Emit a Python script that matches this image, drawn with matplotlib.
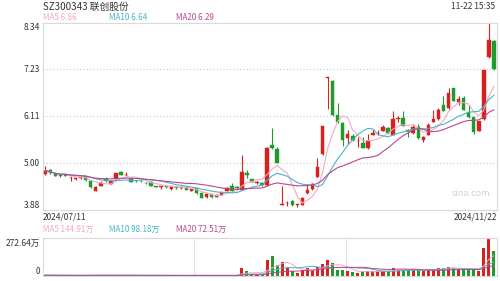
import numpy as np
import pandas as pd
import matplotlib
matplotlib.use("Agg")
import matplotlib.pyplot as plt

plt.rcParams['font.family'] = ['Noto Sans CJK SC', 'DejaVu Sans']

title = "SZ300343 联创股份"
timestamp = "11-22 15:35"
start_label = "2024/07/11"
end_label = "2024/11/22"
price_ticks = [3.88, 5.00, 6.11, 7.23, 8.34]
vol_max_label = "272.64万"
price_ma_labels = ["MA5 6.86", "MA10 6.64", "MA20 6.29"]
vol_ma_labels = ["MA5 144.91万", "MA10 98.18万", "MA20 72.51万"]

opens = [4.74, 4.83, 4.73, 4.71, 4.72, 4.64, 4.63, 4.65, 4.69, 4.56,
         4.34, 4.45, 4.63, 4.51, 4.62, 4.79, 4.71, 4.63, 4.58, 4.57,
         4.53, 4.55, 4.44, 4.42, 4.44, 4.37, 4.43, 4.41, 4.42, 4.34,
         4.40, 4.29, 4.18, 4.25, 4.20, 4.24, 4.34, 4.45, 4.42, 4.36,
         4.77, 4.62, 4.52, 4.53, 4.48, 5.43, 5.33, 4.00, 4.04, 4.09,
         4.00, 4.00, 4.28, 4.37, 4.67, 5.21, 7.03, 6.95, 6.14, 5.96,
         5.59, 5.64, 5.52, 5.47, 5.35, 5.67, 5.71, 5.76, 5.83, 5.67,
         6.05, 6.06, 5.78, 5.71, 5.85, 5.55, 5.67, 5.98, 6.04, 6.38,
         6.30, 6.78, 6.46, 6.54, 6.22, 6.09, 5.77, 6.04, 7.53, 7.91]
closes = [4.82, 4.75, 4.69, 4.68, 4.70, 4.65, 4.64, 4.66, 4.59, 4.42,
          4.43, 4.52, 4.56, 4.58, 4.75, 4.72, 4.72, 4.55, 4.57, 4.56,
          4.52, 4.46, 4.43, 4.44, 4.43, 4.45, 4.40, 4.41, 4.36, 4.37,
          4.28, 4.17, 4.25, 4.18, 4.24, 4.31, 4.41, 4.34, 4.41, 4.79,
          4.71, 4.55, 4.54, 4.47, 5.35, 5.36, 5.01, 4.01, 4.05, 3.99,
          4.00, 4.17, 4.36, 4.49, 4.91, 5.88, 7.04, 6.14, 5.98, 5.55,
          5.68, 5.55, 5.53, 5.36, 5.53, 5.72, 5.72, 5.85, 5.71, 6.04,
          6.06, 5.88, 5.76, 5.85, 5.59, 5.61, 5.90, 6.04, 6.26, 6.24,
          6.67, 6.48, 6.52, 6.26, 6.09, 5.74, 5.99, 7.21, 7.93, 7.23]
highs = [4.93, 4.85, 4.74, 4.72, 4.75, 4.69, 4.67, 4.68, 4.70, 4.57,
         4.45, 4.58, 4.66, 4.60, 4.77, 4.81, 4.78, 4.67, 4.60, 4.59,
         4.55, 4.56, 4.46, 4.45, 4.45, 4.46, 4.44, 4.43, 4.43, 4.38,
         4.41, 4.30, 4.26, 4.26, 4.25, 4.32, 4.43, 4.53, 4.44, 5.19,
         4.84, 4.63, 4.57, 4.54, 5.37, 5.83, 5.37, 4.46, 4.09, 4.11,
         4.03, 4.18, 4.51, 4.52, 5.11, 5.88, 7.04, 6.97, 6.43, 5.97,
         5.78, 5.70, 5.61, 5.62, 5.68, 5.80, 5.79, 5.90, 5.85, 6.24,
         6.12, 6.24, 5.82, 5.90, 5.93, 5.64, 5.94, 6.26, 6.30, 6.59,
         6.78, 6.79, 6.59, 6.60, 6.38, 6.10, 6.00, 7.22, 8.34, 7.93]
lows = [4.72, 4.73, 4.68, 4.67, 4.68, 4.56, 4.60, 4.63, 4.58, 4.41,
        4.33, 4.44, 4.55, 4.49, 4.61, 4.71, 4.70, 4.54, 4.55, 4.54,
        4.50, 4.45, 4.42, 4.38, 4.41, 4.36, 4.39, 4.39, 4.35, 4.33,
        4.27, 4.16, 4.17, 4.17, 4.19, 4.23, 4.33, 4.33, 4.38, 4.35,
        4.64, 4.54, 4.49, 4.45, 4.46, 5.34, 4.99, 3.99, 3.98, 3.98,
        3.94, 3.99, 4.27, 4.36, 4.66, 5.20, 6.28, 6.12, 5.96, 5.40,
        5.45, 5.53, 5.39, 5.35, 5.34, 5.66, 5.67, 5.75, 5.70, 5.66,
        5.98, 5.87, 5.62, 5.70, 5.58, 5.50, 5.66, 5.97, 6.03, 6.23,
        6.29, 6.47, 6.38, 6.25, 6.08, 5.70, 5.76, 6.03, 7.50, 7.22]
volumes = [6, 5, 5, 4, 5, 5, 4, 4, 5, 6,
           6, 5, 5, 5, 6, 5, 5, 5, 4, 4,
           4, 5, 4, 4, 4, 4, 4, 4, 4, 4,
           5, 5, 4, 4, 4, 4, 5, 5, 4, 57,
           33, 14, 10, 10, 111, 145, 81, 97, 57, 33,
           21, 45, 57, 45, 64, 88, 111, 92, 45, 45,
           33, 26, 21, 33, 38, 33, 33, 38, 33, 57,
           45, 45, 45, 40, 42, 33, 52, 52, 60, 54,
           62, 57, 52, 45, 41, 40, 35, 199, 272.64, 178]

RED = "#d8201c"
GREEN = "#1f9a2c"
C_MA5 = "#f2a9c2"
C_MA10 = "#4ab3c9"
C_MA20 = "#b8468f"
GRID = "#d9d9d9"
TXT = "#333333"

o = np.array(opens); c = np.array(closes); h = np.array(highs); l = np.array(lows)
v = np.array(volumes, dtype=float)
n = len(o)
x = np.arange(n)
up = c >= o
colors = np.where(up, RED, GREEN)

cs = pd.Series(c)
ma5 = cs.rolling(5, min_periods=1).mean()
ma10 = cs.rolling(10, min_periods=1).mean()
ma20 = cs.rolling(20, min_periods=1).mean()
vs = pd.Series(v)
vma5 = vs.rolling(5, min_periods=1).mean()
vma10 = vs.rolling(10, min_periods=1).mean()
vma20 = vs.rolling(20, min_periods=1).mean()

W, H = 500, 281
fig = plt.figure(figsize=(5, 2.81), dpi=100)

def fx(px):
    return px / W

def fy(py):
    return 1 - py / H

L, R = 43, 497
ax = fig.add_axes([fx(L), fy(210), fx(R - L), (210 - 22.7) / H])
axv = fig.add_axes([fx(L), fy(276), fx(R - L), (276 - 237.7) / H])

xlim = (-0.46, 89.62)
for a in (ax, axv):
    a.set_xlim(*xlim)
    a.set_xticks([]); a.set_yticks([])
    for s in a.spines.values():
        s.set_color(GRID)
        s.set_linewidth(0.8)

# price panel
ax.set_ylim(price_ticks[0], price_ticks[-1])
for t in price_ticks[1:-1]:
    ax.axhline(t, color="#cccccc", lw=0.8, ls=(0, (1, 2)), zorder=0)

body_h = np.maximum(np.abs(c - o), 0.012)
body_b = np.minimum(o, c)
ax.vlines(x, l, h, colors=colors, lw=0.8, zorder=2)
ax.bar(x, body_h, bottom=body_b, width=0.7, color=colors, edgecolor=colors, lw=0.3, zorder=3)
ax.plot(x, ma5, color=C_MA5, lw=0.8, zorder=4)
ax.plot(x, ma10, color=C_MA10, lw=0.8, zorder=4)
ax.plot(x, ma20, color=C_MA20, lw=0.8, zorder=4)

# volume panel
axv.set_ylim(0, v.max())
for frac in (1/3, 2/3):
    axv.axvline(xlim[0] + frac * (xlim[1] - xlim[0]), color="#e3e3e3", lw=0.8, zorder=0)
axv.bar(x, v, width=0.6, color=colors, zorder=2)
axv.plot(x, vma5, color=C_MA5, lw=0.7, zorder=3)
axv.plot(x, vma10, color=C_MA10, lw=0.7, zorder=3)
axv.plot(x, vma20, color=C_MA20, lw=0.7, zorder=3)

def txt(px, py, s, color=TXT, size=6, ha="left", va="center"):
    fig.text(fx(px), fy(py), s, color=color, fontsize=size, ha=ha, va=va)

txt(L, 6.5, title, size=7)
txt(R - 2, 6.5, timestamp, size=6, ha="right")
ma_cols = [C_MA5, C_MA10, C_MA20]
ma_x = [L, 109, 176]
for s, col, px in zip(price_ma_labels, ma_cols, ma_x):
    txt(px, 17.5, s, color=col, size=5.8)

ypos = {8.34: 28, 7.23: 69.5, 6.11: 116.5, 5.00: 163.5, 3.88: 205}
for t in price_ticks:
    txt(40, ypos[t], f"{t:.2f}", size=6, ha="right")

txt(L, 217, start_label, size=6)
txt(R, 217, end_label, size=6, ha="right")

for s, col, px in zip(vol_ma_labels, ma_cols, ma_x):
    txt(px, 229.5, s, color=col, size=5.8)
txt(40, 243.5, vol_max_label, size=6, ha="right")
txt(40, 271.5, "0", size=6, ha="right")

txt(471, 194, "sina.com", color="#d0d0d0", size=6.5, ha="center")

fig.savefig("out.png", dpi=100)
